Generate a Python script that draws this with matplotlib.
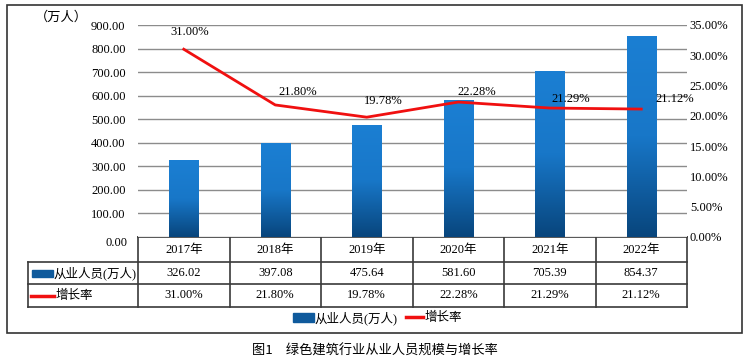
import numpy as np
import matplotlib.pyplot as plt
from matplotlib.patches import Rectangle
from matplotlib.colors import LinearSegmentedColormap

# data
years = ['2017年', '2018年', '2019年', '2020年', '2021年', '2022年']
workers = [326.02, 397.08, 475.64, 581.60, 705.39, 854.37]
growth = [31.00, 21.80, 19.78, 22.28, 21.29, 21.12]
worker_label = '从业人员(万人)'
growth_label = '增长率'
unit_label = '（万人）'
caption = '图1\u3000绿色建筑行业从业人员规模与增长率'

plt.rcParams['font.family'] = ['Liberation Serif', 'Noto Sans CJK SC']
W, H = 750, 364
fs = 9
fig = plt.figure(figsize=(7.5, 3.64), dpi=100)

# overlay in pixel coords for frame, table and legend
ov = fig.add_axes([0, 0, 1, 1])
ov.set_xlim(0, W)
ov.set_ylim(H, 0)
ov.axis('off')

L, R, T, B = 138, 687, 25, 237
ax = fig.add_axes([L / W, (H - B) / H, (R - L) / W, (B - T) / H])
ax2 = ax.twinx()
n = len(years)
x = np.arange(n)

ticks = np.arange(0, 901, 100)
ax.set_yticks(ticks)
# 0.00 sits a bit lower in the table header, drawn separately
ax.set_yticklabels([''] + ['%.2f' % v for v in ticks[1:]])
ax.yaxis.grid(True, color='#8c8c8c', lw=1)
ax.set_axisbelow(True)
ax.set_xticks([])
ax.tick_params(axis='y', length=0, pad=9, labelsize=fs)
for s in ax.spines.values():
    s.set_visible(False)

# gradient bars
bw = 0.32
grad = np.linspace(0, 1, 256).reshape(-1, 1)
cmap = LinearSegmentedColormap.from_list('b', ['#08457c', '#1877c8', '#1b7fd3'])
bars = ax.bar(x, workers, width=bw, color='none', edgecolor='none', zorder=2)
for b in bars:
    im = ax.imshow(grad, cmap=cmap, origin='lower', aspect='auto', zorder=2,
                   extent=[b.get_x(), b.get_x() + b.get_width(), 0, b.get_height()])
    im.set_clip_path(b)
ax.set_xlim(-0.5, n - 0.5)
ax.set_ylim(0, 900)

ax2.set_ylim(0, 35)
ax2.set_yticks(np.arange(0, 36, 5))
ax2.set_yticklabels(['%.2f%%' % v for v in np.arange(0, 36, 5)])
ax2.tick_params(axis='y', length=0, pad=2, labelsize=fs)
for s in ax2.spines.values():
    s.set_visible(False)
ax2.plot(x, growth, color='#f01010', lw=2, zorder=3)
offs = [(4, 8), (16, 5), (12, 7), (13, 3), (15, 2), (24, 3)]
for xi, g, o in zip(x, growth, offs):
    ax2.annotate('%.2f%%' % g, (xi, g), xytext=o, textcoords='offset points',
                 ha='center', va='bottom', fontsize=fs)

# unit label
ov.text(61, 17, unit_label, ha='center', va='center', fontsize=9.5)

# outer frame
ov.add_patch(Rectangle((7, 5), 735, 328, fill=False, ec='#333333', lw=1.2))

# table
colw = (R - L) / n
r0, r1, r2, r3 = 237, 262, 284, 307
tl = 28
lc = '#3a3a3a'
ov.plot([L, R], [r0, r0], color=lc, lw=1.2)
for yy in (r1, r2, r3):
    ov.plot([tl, R], [yy, yy], color=lc, lw=1.2)
ov.plot([tl, tl], [r1, r3], color=lc, lw=1.2)
for i in range(n + 1):
    xx = L + i * colw
    ov.plot([xx, xx], [r0, r3], color=lc, lw=1.2)
for i in range(n):
    cx = L + (i + 0.5) * colw
    ov.text(cx, (r0 + r1) / 2, years[i], ha='center', va='center', fontsize=fs)
    ov.text(cx, (r1 + r2) / 2, '%.2f' % workers[i], ha='center', va='center', fontsize=fs)
    ov.text(cx, (r2 + r3) / 2, '%.2f%%' % growth[i], ha='center', va='center', fontsize=fs)
ov.text(128, 243, '%.2f' % ticks[0], ha='right', va='center', fontsize=fs)

# row legend keys
ov.add_patch(Rectangle((32, 270), 21, 7, color='#0f5a9c'))
ov.text(54, (r1 + r2) / 2, worker_label, ha='left', va='center', fontsize=fs)
ov.plot([31, 54], [296, 296], color='#f01010', lw=2.5)
ov.text(56, (r2 + r3) / 2, growth_label, ha='left', va='center', fontsize=fs)

# bottom legend
ov.add_patch(Rectangle((293, 313), 21, 9, color='#0f5a9c'))
ov.text(315, 318, worker_label, ha='left', va='center', fontsize=fs)
ov.plot([406, 423], [317, 317], color='#f01010', lw=2.5)
ov.text(425, 318, growth_label, ha='left', va='center', fontsize=fs)

# caption
ov.text(375, 351, caption, ha='center', va='center', fontsize=9.5,
        family=['Noto Sans CJK SC', 'DejaVu Sans'])

fig.savefig('out.png', dpi=100)
